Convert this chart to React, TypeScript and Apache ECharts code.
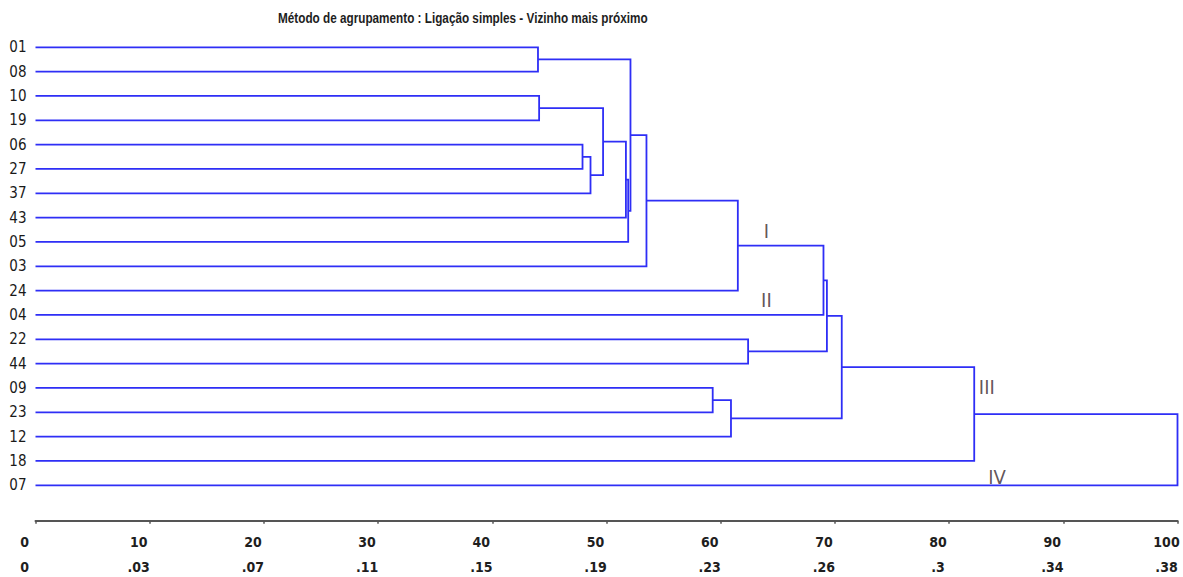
import React, { useEffect, useRef } from "react";
import * as echarts from "echarts";

const titleText = "Método de agrupamento : Ligação simples - Vizinho mais próximo";

const leaves = ["01", "08", "10", "19", "06", "27", "37", "43", "05", "03", "24", "04", "22", "44", "09", "23", "12", "18", "07"];

// merges: child A, child B (leaf label or "m<index>"), merge level
const mergeA = ["01", "10", "06", "m2", "m1", "m4", "m5", "m0", "m7", "m8", "m9", "22", "m10", "09", "m13", "m12", "m15", "m16"];
const mergeB = ["08", "19", "27", "37", "m3", "43", "05", "m6", "03", "24", "04", "44", "m11", "23", "12", "m14", "18", "07"];
const mergeLevel = [44.0, 44.1, 47.9, 48.6, 49.7, 51.7, 51.9, 52.1, 53.5, 61.5, 69.0, 62.4, 69.3, 59.3, 60.9, 70.6, 82.2, 100];

const tickTop = ["0", "10", "20", "30", "40", "50", "60", "70", "80", "90", "100"];
const tickBottom = ["0", ".03", ".07", ".11", ".15", ".19", ".23", ".26", ".3", ".34", ".38"];

const groupNames = ["I", "II", "III", "IV"];
const groupX = [64.0, 64.0, 83.3, 84.2];
const groupY = [7.55, 10.39, 13.96, 17.66];

const NARROW = "'Liberation Sans Narrow', 'Arial Narrow', 'DejaVu Sans Condensed', sans-serif";

function nodeOf(name: string, ys: number[]) {
  if (name.startsWith("m")) {
    const k = parseInt(name.slice(1), 10);
    return { h: mergeLevel[k], y: ys[k] };
  }
  return { h: 0, y: leaves.indexOf(name) };
}

export default function App() {
  const ref = useRef<HTMLDivElement>(null);
  useEffect(() => {
    if (!ref.current) return;
    const chart = echarts.init(ref.current, undefined, { renderer: "svg" });

    const ys: number[] = [];
    for (let i = 0; i < mergeLevel.length; i++) {
      const a = nodeOf(mergeA[i], ys);
      const b = nodeOf(mergeB[i], ys);
      ys[i] = (a.y + b.y) / 2;
    }

    chart.setOption({
      animation: false,
      backgroundColor: "#ffffff",
      graphic: [
        {
          type: "text",
          x: 278,
          y: 18,
          scaleX: 0.84,
          style: {
            text: titleText,
            font: "bold 14px 'Liberation Sans', Arial, sans-serif",
            fill: "#1e1e1e",
            align: "left",
            verticalAlign: "middle",
          },
        },
      ],
      grid: { left: 35.5, right: 5.5, top: 47.3, bottom: 91.7, containLabel: false },
      xAxis: {
        type: "value",
        position: "bottom",
        min: 0,
        max: 100,
        interval: 10,
        offset: 35.4,
        splitLine: { show: false },
        axisLine: { show: true, onZero: false, lineStyle: { color: "#555", width: 2 } },
        axisTick: { show: true, length: 3, lineStyle: { color: "#555", width: 1.5 } },
        axisLabel: {
          margin: 8.5,
          padding: [0, 22, 0, 0],
          formatter: (v: number) => {
            const k = Math.round(v / 10);
            return "{a|" + tickTop[k] + "}\n{b|" + tickBottom[k] + "}";
          },
          rich: {
            a: { fontFamily: NARROW, fontSize: 14, fontWeight: "bold", color: "#1e1e1e", lineHeight: 25 },
            b: { fontFamily: NARROW, fontSize: 14, fontWeight: "bold", color: "#1e1e1e", lineHeight: 25 },
          },
        },
      },
      yAxis: {
        type: "value",
        min: 0,
        max: 18,
        interval: 1,
        inverse: true,
        splitLine: { show: false },
        axisLine: { show: false },
        axisTick: { show: false },
        axisLabel: {
          margin: 9,
          fontFamily: NARROW,
          fontSize: 15,
          color: "#1a1a1a",
          formatter: (v: number) => leaves[Math.round(v)] ?? "",
        },
      },
      series: [
        {
          type: "custom",
          coordinateSystem: "cartesian2d",
          data: mergeLevel.map((h, i) => [h, ys[i]]),
          renderItem: (params: any, api: any) => {
            const i = params.dataIndex;
            const a = nodeOf(mergeA[i], ys);
            const b = nodeOf(mergeB[i], ys);
            const h = mergeLevel[i];
            const pts = [
              [a.h, a.y],
              [h, a.y],
              [h, b.y],
              [b.h, b.y],
            ].map((p) => api.coord(p));
            return {
              type: "polyline",
              shape: { points: pts },
              style: { stroke: "#2e2ef6", lineWidth: 1.8, fill: null },
            };
          },
        },
        {
          type: "scatter",
          symbolSize: 0,
          data: groupNames.map((n, i) => ({ name: n, value: [groupX[i], groupY[i]] })),
          label: {
            show: true,
            position: "inside",
            formatter: (p: any) => p.name,
            fontFamily: NARROW,
            fontSize: 20,
            color: "#3a2a2e",
          },
          silent: true,
        },
      ],
    });
    return () => chart.dispose();
  }, []);
  return <div ref={ref} style={{ position: "fixed", left: 0, top: 0, width: 1183, height: 577 }} />;
}
